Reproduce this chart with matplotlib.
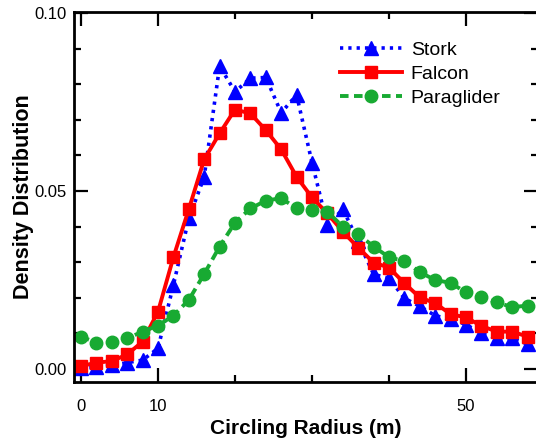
import matplotlib
matplotlib.use("Agg")
import matplotlib.pyplot as plt
from matplotlib.ticker import FixedLocator

radius = [0, 2, 4, 6, 8, 10, 12, 14, 16, 18, 20, 22, 24, 26, 28, 30, 32, 34, 36, 38,
          40, 42, 44, 46, 48, 50, 52, 54, 56, 58]
stork = [0.0002, 0.0005, 0.0010, 0.0018, 0.0025, 0.0058, 0.0236, 0.0423, 0.0540, 0.0851,
         0.0779, 0.0817, 0.0819, 0.0720, 0.0770, 0.0580, 0.0404, 0.0449, 0.0360, 0.0266,
         0.0255, 0.0199, 0.0176, 0.0150, 0.0140, 0.0125, 0.0100, 0.0086, 0.0086, 0.0070]
falcon = [0.0008, 0.0018, 0.0022, 0.0041, 0.0077, 0.0161, 0.0314, 0.0449, 0.0589, 0.0662,
          0.0729, 0.0718, 0.0671, 0.0617, 0.0540, 0.0482, 0.0437, 0.0386, 0.0341, 0.0299,
          0.0285, 0.0241, 0.0201, 0.0185, 0.0154, 0.0145, 0.0121, 0.0105, 0.0105, 0.0091]
paraglider = [0.0091, 0.0074, 0.0077, 0.0086, 0.0105, 0.0122, 0.0150, 0.0194, 0.0267, 0.0344,
              0.0411, 0.0451, 0.0473, 0.0480, 0.0451, 0.0447, 0.0442, 0.0400, 0.0379, 0.0344,
              0.0314, 0.0303, 0.0272, 0.0250, 0.0242, 0.0215, 0.0202, 0.0187, 0.0174, 0.0178]

xticks_major = [0, 10, 50]
xtick_labels = ["0", "10", "50"]
xticks_minor = [20, 30, 40]
yticks_major = [0.0, 0.05, 0.10]
ytick_labels = ["0.00", "0.05", "0.10"]
yticks_minor = [0.01, 0.02, 0.03, 0.04, 0.06, 0.07, 0.08, 0.09]

plt.rcParams['font.family'] = ['Liberation Sans', 'DejaVu Sans']

W, H = 536, 441
fig = plt.figure(figsize=(W / 100, H / 100), dpi=100)
ax = fig.add_axes([74 / W, 1 - 382 / H, (538 - 74) / W, (382 - 12) / H])

ax.plot(radius, stork, color='#0000ff', linestyle=(0, (0.9, 1.4)), linewidth=2.6,
        marker='^', markersize=9.5, label='Stork', dash_capstyle='butt')
ax.plot(radius, falcon, color='#ff0000', linestyle='-', linewidth=2.8,
        marker='s', markersize=8.5, label='Falcon')
ax.plot(radius, paraglider, color='#18aa32', linestyle=(0, (2.2, 1.4)), linewidth=2.8,
        marker='o', markersize=9, label='Paraglider')

ax.set_xlim(-0.91, 59.35)
ax.set_ylim(-0.00365, 0.1003)

ax.xaxis.set_major_locator(FixedLocator(xticks_major))
ax.set_xticklabels(xtick_labels)
ax.xaxis.set_minor_locator(FixedLocator(xticks_minor))
ax.yaxis.set_major_locator(FixedLocator(yticks_major))
ax.set_yticklabels(ytick_labels)
ax.yaxis.set_minor_locator(FixedLocator(yticks_minor))

ax.tick_params(which='both', direction='in', top=True, right=True, width=1.6,
               labelsize=12, colors='black')
ax.tick_params(which='major', length=10)
ax.tick_params(which='minor', length=5)
ax.tick_params(axis='x', which='major', pad=12)
ax.tick_params(axis='y', which='major', pad=5)
for sp in ax.spines.values():
    sp.set_linewidth(2.0)

ax.set_xlabel('Circling Radius (m)', fontsize=15, fontweight='bold', labelpad=4)
ax.set_ylabel('Density Distribution', fontsize=15.5, fontweight='bold', labelpad=0.5)

ax.legend(loc='upper left', bbox_to_anchor=(0.573, 0.92), frameon=False,
          fontsize=14, handlelength=3.2, handletextpad=0.45, labelspacing=0.32,
          borderpad=0, borderaxespad=0)

fig.savefig('out.png', dpi=100)
